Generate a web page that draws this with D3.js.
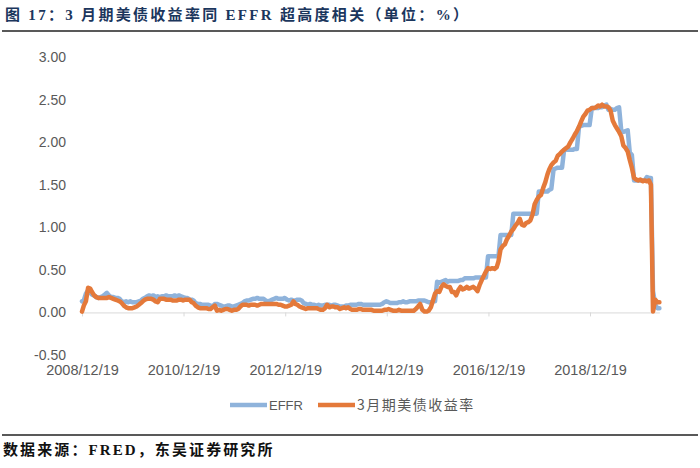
<!DOCTYPE html>
<html><head><meta charset="utf-8">
<script src="https://cdn.jsdelivr.net/npm/d3@7"></script>
<style>body{margin:0;background:#fff}svg{display:block}</style>
</head><body><svg id="c" width="700" height="468"></svg>
<script>
const titleText = "图 17：3 月期美债收益率同 EFFR 超高度相关（单位：%）";
const sourceText = "数据来源：FRED，东吴证券研究所";
const seriesNames = ["EFFR", "3月期美债收益率"];
const yTicks = [-0.5, 0, 0.5, 1, 1.5, 2, 2.5, 3];
const xTickLabels = ["2008/12/19","2010/12/19","2012/12/19","2014/12/19","2016/12/19","2018/12/19"];
const startDate = "2008-12-19", endDate = "2020-05-01";

// semi-monthly observations: start date, then 1st & 16th of each month 2009-01 .. 2020-04, then end date
const effr = [0.13,
 0.14,0.22,0.26,0.23,0.21,0.20,0.18,0.17,0.18,0.19,0.21,0.23,0.20,0.18,0.18,0.17,0.17,0.16,0.13,0.12,0.13,0.12,0.13,0.12,
 0.12,0.12,0.13,0.14,0.16,0.17,0.19,0.20,0.19,0.20,0.18,0.19,0.18,0.19,0.19,0.20,0.19,0.19,0.19,0.20,0.19,0.20,0.19,0.18,
 0.17,0.17,0.15,0.15,0.14,0.11,0.10,0.10,0.09,0.09,0.09,0.09,0.08,0.07,0.10,0.10,0.09,0.08,0.07,0.07,0.08,0.08,0.07,0.07,
 0.08,0.09,0.10,0.11,0.13,0.14,0.14,0.15,0.16,0.16,0.17,0.16,0.16,0.16,0.14,0.13,0.14,0.15,0.16,0.17,0.16,0.16,0.16,0.17,
 0.15,0.14,0.15,0.14,0.14,0.15,0.15,0.14,0.11,0.10,0.09,0.10,0.09,0.09,0.08,0.09,0.08,0.08,0.09,0.09,0.09,0.08,0.09,0.09,
 0.08,0.07,0.07,0.07,0.08,0.08,0.09,0.09,0.09,0.09,0.10,0.10,0.09,0.09,0.09,0.09,0.09,0.09,0.09,0.09,0.09,0.10,0.12,0.13,
 0.12,0.11,0.11,0.11,0.11,0.12,0.12,0.13,0.12,0.12,0.13,0.13,0.13,0.13,0.14,0.14,0.14,0.14,0.13,0.12,0.12,0.13,0.13,0.36,
 0.35,0.36,0.37,0.38,0.36,0.37,0.37,0.37,0.37,0.37,0.38,0.38,0.40,0.40,0.40,0.40,0.40,0.41,0.41,0.41,0.41,0.41,0.41,0.66,
 0.66,0.66,0.66,0.66,0.66,0.91,0.91,0.91,0.91,0.91,0.91,1.16,1.16,1.16,1.16,1.16,1.16,1.16,1.16,1.16,1.16,1.16,1.16,1.42,
 1.42,1.42,1.42,1.42,1.44,1.45,1.68,1.69,1.70,1.70,1.70,1.91,1.91,1.91,1.91,1.91,1.92,1.92,2.18,2.19,2.20,2.20,2.20,2.20,
 2.40,2.40,2.40,2.40,2.41,2.41,2.43,2.44,2.38,2.39,2.38,2.38,2.40,2.41,2.13,2.12,2.13,2.14,1.88,1.85,1.55,1.55,1.55,1.55,
 1.55,1.55,1.59,1.58,1.58,0.25,0.09,0.05,
 0.05];
const bill3m = [0.01,
 0.08,0.13,0.29,0.28,0.24,0.20,0.18,0.17,0.17,0.17,0.17,0.17,0.18,0.17,0.16,0.15,0.14,0.13,0.11,0.08,0.06,0.05,0.05,0.05,
 0.06,0.07,0.09,0.11,0.13,0.15,0.16,0.16,0.16,0.15,0.13,0.12,0.16,0.16,0.16,0.15,0.15,0.15,0.14,0.14,0.14,0.15,0.15,0.14,
 0.15,0.15,0.15,0.12,0.11,0.08,0.06,0.05,0.05,0.05,0.05,0.04,0.04,0.06,0.08,0.02,0.03,0.02,0.03,0.04,0.04,0.03,0.02,0.03,
 0.03,0.04,0.07,0.09,0.09,0.09,0.08,0.09,0.09,0.09,0.08,0.09,0.10,0.10,0.10,0.10,0.10,0.10,0.10,0.10,0.09,0.09,0.08,0.07,
 0.07,0.08,0.09,0.13,0.10,0.09,0.07,0.06,0.05,0.04,0.05,0.05,0.05,0.05,0.05,0.04,0.03,0.03,0.05,0.09,0.06,0.07,0.07,0.06,
 0.06,0.04,0.05,0.06,0.05,0.06,0.04,0.03,0.03,0.03,0.04,0.04,0.03,0.03,0.03,0.03,0.03,0.02,0.02,0.02,0.02,0.02,0.03,0.03,
 0.04,0.03,0.02,0.02,0.02,0.03,0.02,0.02,0.02,0.02,0.02,0.02,0.02,0.04,0.07,0.10,0.03,0.01,0.01,0.02,0.06,0.14,0.22,0.25,
 0.24,0.30,0.33,0.31,0.30,0.30,0.24,0.24,0.20,0.26,0.30,0.27,0.28,0.30,0.28,0.29,0.30,0.28,0.25,0.32,0.38,0.43,0.48,0.52,
 0.51,0.52,0.51,0.53,0.60,0.74,0.78,0.80,0.86,0.90,0.95,0.98,1.02,1.05,1.10,1.03,1.02,1.05,1.06,1.08,1.15,1.27,1.32,1.36,
 1.38,1.46,1.53,1.62,1.68,1.73,1.76,1.78,1.84,1.86,1.89,1.91,1.93,1.95,2.00,2.04,2.09,2.13,2.18,2.24,2.30,2.33,2.37,2.38,
 2.40,2.40,2.41,2.43,2.42,2.44,2.42,2.42,2.41,2.37,2.25,2.20,2.16,2.12,2.07,1.96,1.93,1.89,1.79,1.70,1.58,1.56,1.55,1.56,
 1.54,1.55,1.54,1.55,1.50,0.01,0.15,0.12,
 0.12];
const colors = ["#8FB3DB", "#E4793A"];

const parse = d3.timeParse("%Y-%m-%d");
const parseTick = d3.timeParse("%Y/%m/%d");
const dates = [parse(startDate)];
d3.timeMonth.range(new Date(2009, 0, 1), new Date(2020, 4, 1)).forEach(m => {
  dates.push(m); dates.push(d3.timeDay.offset(m, 15));
});
dates.push(parse(endDate));

const svg = d3.select("#c");
svg.append("rect").attr("width", 700).attr("height", 468).attr("fill", "#fff");

const x = d3.scaleTime().domain([parse(startDate), parse(endDate)]).range([82, 659.4]);
const y = d3.scaleLinear().domain([-0.5, 3]).range([355, 57]);

// title and rules
svg.append("text").attr("x", 5).attr("y", 20)
  .attr("font-family", "'Liberation Serif','Noto Sans CJK SC',serif")
  .attr("font-weight", "bold").attr("font-size", 15).attr("letter-spacing", 2.3)
  .attr("fill", "#1B365D").text(titleText);
svg.append("line").attr("x1", 2).attr("x2", 698).attr("y1", 31).attr("y2", 31)
  .attr("stroke", "#222").attr("stroke-width", 1.5);
svg.append("line").attr("x1", 2).attr("x2", 698).attr("y1", 435).attr("y2", 435)
  .attr("stroke", "#222").attr("stroke-width", 1.5);
svg.append("text").attr("x", 3).attr("y", 455)
  .attr("font-family", "'Liberation Serif','Noto Sans CJK SC',serif")
  .attr("font-weight", "bold").attr("font-size", 15).attr("letter-spacing", 2.1)
  .attr("fill", "#111").text(sourceText);

// y axis labels
const yAxis = svg.append("g").attr("transform", "translate(66,0)")
  .call(d3.axisLeft(y).tickValues(yTicks).tickSize(0).tickPadding(0).tickFormat(d => d.toFixed(2)));
yAxis.select(".domain").remove();
yAxis.selectAll("text").attr("font-family", "'Liberation Sans',Arial,sans-serif")
  .attr("font-size", 14).attr("fill", "#595959");

// x axis line at zero with ticks
const tickDates = xTickLabels.map(parseTick);
const xAxis = svg.append("g").attr("transform", `translate(0,${y(0)})`)
  .call(d3.axisBottom(x).tickValues(tickDates).tickSize(4).tickSizeOuter(0).tickFormat(""));
xAxis.select(".domain").attr("stroke", "#D9D9D9");
xAxis.selectAll(".tick line").attr("stroke", "#D9D9D9");

// x labels at bottom
const xLab = svg.append("g").attr("transform", "translate(0,365)")
  .call(d3.axisBottom(x).tickValues(tickDates).tickSize(0).tickPadding(0)
    .tickFormat((d, i) => xTickLabels[i]));
xLab.select(".domain").remove();
xLab.selectAll("text").attr("font-family", "'Liberation Sans',Arial,sans-serif")
  .attr("font-size", 14.5).attr("fill", "#595959");

// lines
const line = d3.line().x((d, i) => x(dates[i])).y(d => y(d)).curve(d3.curveLinear);
[effr, bill3m].forEach((s, k) => {
  svg.append("path").datum(s).attr("d", line).attr("fill", "none")
    .attr("stroke", colors[k]).attr("stroke-width", 4.5)
    .attr("stroke-linejoin", "round").attr("stroke-linecap", "round");
});

// legend
const legX = [230, 318];
seriesNames.forEach((n, k) => {
  const g = svg.append("g").attr("transform", `translate(${legX[k]},405)`);
  g.append("line").attr("x1", 0).attr("x2", 37).attr("stroke", colors[k]).attr("stroke-width", 4.5);
  g.append("text").attr("x", 39).attr("y", 0).attr("dy", "0.35em")
    .attr("font-family", k === 0 ? "'Liberation Sans',Arial,sans-serif" : "'Noto Sans CJK SC',sans-serif")
    .attr("font-size", k === 0 ? 13 : 14).attr("letter-spacing", k === 0 ? 0 : 1.5)
    .attr("fill", "#595959").text(n);
});
</script></body></html>
